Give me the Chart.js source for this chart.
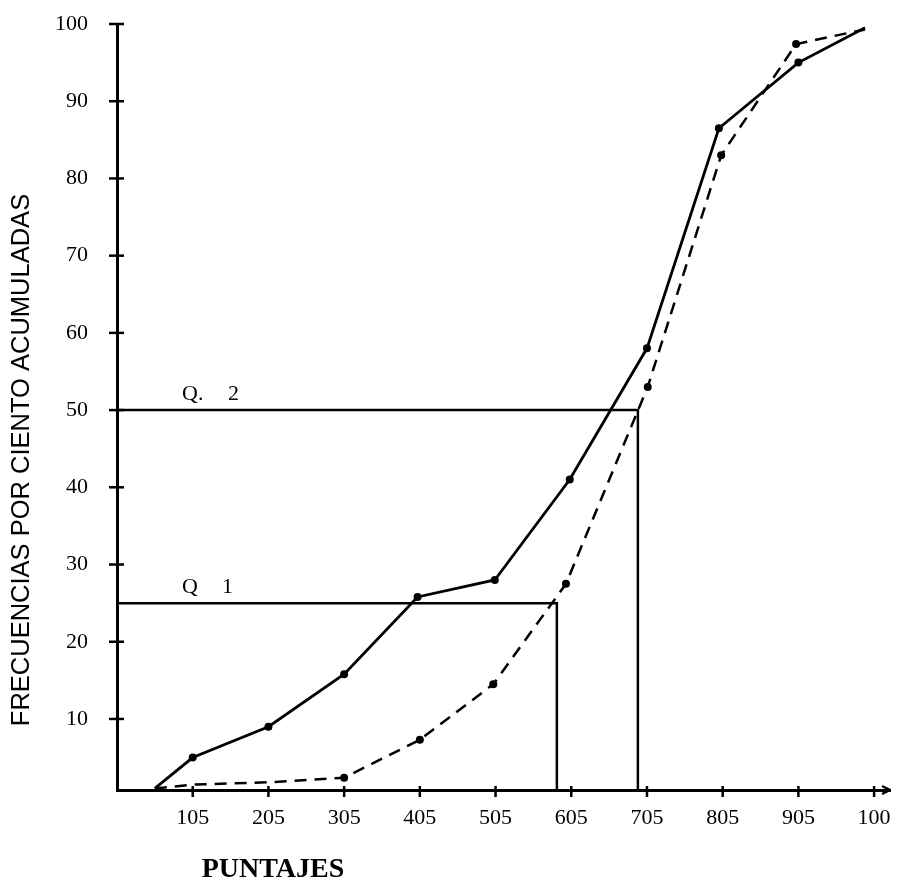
<!DOCTYPE html>
<html>
<head>
<meta charset="utf-8">
<script src="https://cdn.jsdelivr.net/npm/chart.js@4.4.1/dist/chart.umd.min.js"></script>
<style>
  html, body { margin: 0; padding: 0; background: #fff; }
  canvas { display: block; }
</style>
</head>
<body>
<canvas id="ogiva" width="899" height="888"></canvas>
<script>
// tick values / labels
const xTickValues = [105, 205, 305, 405, 505, 605, 705, 805, 905, 1005];
const xTickLabels = ['105', '205', '305', '405', '505', '605', '705', '805', '905', '100'];
const yTickValues = [10, 20, 30, 40, 50, 60, 70, 80, 90, 100];

// solid curve
const solidX = [55, 105, 205, 305, 402, 504, 603, 705, 800, 905, 993];
const solidY = [1, 5, 9, 15.8, 25.8, 28, 41, 58, 86.5, 95, 99.5];
const solidMarks = [0, 4, 4, 4, 4, 4, 4, 4, 4, 4, 0];

// dashed curve
const dashedX = [55, 105, 205, 305, 405, 502, 598, 706, 803, 902, 993];
const dashedY = [1, 1.5, 1.8, 2.4, 7.3, 14.5, 27.5, 53, 83, 97.4, 99.3];
const dashedMarks = [0, 0, 0, 4, 4, 4, 4, 4, 4, 4, 0];

// quartiles
const qLevels = [50, 25];
const qScores = [693, 586];
const qNames = [['Q.', '2'], ['Q', '1']];

const yMin = 0.8;
const toPts = (xs, ys) => xs.map((x, i) => ({ x: x, y: ys[i] }));

const qSets = qLevels.map((lvl, i) => ({
  data: [{ x: 5, y: lvl }, { x: qScores[i], y: lvl }, { x: qScores[i], y: yMin }],
  borderColor: '#000',
  borderWidth: 2.5,
  pointRadius: 0,
  fill: false
}));

const decor = {
  id: 'decor',
  afterDraw(chart) {
    const { ctx, chartArea, scales: { x, y } } = chart;
    ctx.save();
    ctx.strokeStyle = '#000';
    ctx.lineWidth = 2.5;
    const seg = (a, b, c, d) => { ctx.beginPath(); ctx.moveTo(a, b); ctx.lineTo(c, d); ctx.stroke(); };
    yTickValues.forEach(v => {
      const py = y.getPixelForValue(v);
      seg(chartArea.left - 8, py, chartArea.left + 7, py);
    });
    xTickValues.forEach(v => {
      const px = x.getPixelForValue(v);
      seg(px, chartArea.bottom - 4, px, chartArea.bottom + 7);
    });
    // little arrow at the end of the x axis
    seg(chartArea.right - 8, chartArea.bottom - 4, chartArea.right, chartArea.bottom);
    seg(chartArea.right - 8, chartArea.bottom + 4, chartArea.right, chartArea.bottom);

    // quartile labels
    ctx.fillStyle = '#000';
    ctx.font = '22px "Liberation Serif"';
    ctx.textBaseline = 'alphabetic';
    ctx.textAlign = 'left';
    qLevels.forEach((lvl, i) => {
      const py = y.getPixelForValue(lvl) - 10;
      ctx.fillText(qNames[i][0], chartArea.left + 65, py);
      ctx.fillText(qNames[i][1], chartArea.left + (i === 0 ? 111 : 105), py);
    });

    // axis titles
    ctx.font = 'bold 28px "Liberation Serif"';
    ctx.textAlign = 'center';
    ctx.fillText('PUNTAJES', 273, 877);

    ctx.translate(22, 460);
    ctx.rotate(-Math.PI / 2);
    ctx.font = '25.5px "Liberation Sans"';
    ctx.textBaseline = 'middle';
    ctx.fillText('FRECUENCIAS POR CIENTO ACUMULADAS', 0, 0);
    ctx.restore();
  }
};

new Chart(document.getElementById('ogiva'), {
  type: 'line',
  data: {
    datasets: [
      {
        data: toPts(solidX, solidY),
        borderColor: '#000',
        backgroundColor: '#000',
        borderWidth: 2.8,
        pointRadius: solidMarks,
        pointBorderWidth: 0,
        fill: false
      },
      {
        data: toPts(dashedX, dashedY),
        borderColor: '#000',
        backgroundColor: '#000',
        borderWidth: 2.5,
        borderDash: [12, 8],
        pointRadius: dashedMarks,
        pointBorderWidth: 0,
        fill: false
      },
      ...qSets
    ]
  },
  options: {
    responsive: false,
    animation: false,
    layout: { padding: { top: 24, right: 9, left: 0, bottom: 0 } },
    plugins: { legend: { display: false }, tooltip: { enabled: false } },
    scales: {
      x: {
        type: 'linear',
        min: 5,
        max: 1026,
        afterFit: s => { s.height = 98; s.paddingLeft = 0; s.paddingRight = 0; },
        afterBuildTicks: s => { s.ticks = xTickValues.map(v => ({ value: v })); },
        grid: { display: false },
        border: { display: true, color: '#000', width: 3 },
        ticks: {
          color: '#000',
          padding: 7,
          maxRotation: 0,
          autoSkip: false,
          font: { family: 'Liberation Serif', size: 22 },
          callback: (v) => xTickLabels[xTickValues.indexOf(v)]
        }
      },
      y: {
        type: 'linear',
        min: yMin,
        max: 100,
        afterFit: s => { s.width = 117; s.paddingTop = 0; s.paddingBottom = 0; },
        afterBuildTicks: s => { s.ticks = yTickValues.map(v => ({ value: v })); },
        grid: { display: false },
        border: { display: true, color: '#000', width: 3 },
        ticks: {
          color: '#000',
          padding: 21,
          autoSkip: false,
          font: { family: 'Liberation Serif', size: 22 }
        }
      }
    }
  },
  plugins: [decor]
});
</script>
</body>
</html>
